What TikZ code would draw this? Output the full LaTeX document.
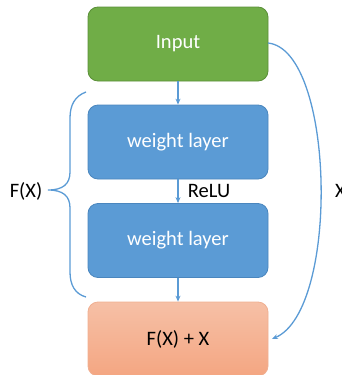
\documentclass[tikz,border=0pt]{standalone}
\usepackage{fontspec}
\setmainfont{Carlito}
\usetikzlibrary{arrows.meta}
\definecolor{ingreen}{HTML}{70AD47}
\definecolor{ingreenb}{HTML}{5A8F38}
\definecolor{wblue}{HTML}{5B9BD5}
\definecolor{wblueb}{HTML}{4A86BE}
\definecolor{otop}{RGB}{246,192,166}
\definecolor{obot}{RGB}{244,166,130}
\definecolor{oborder}{RGB}{240,175,145}
\definecolor{conn}{HTML}{5B9BD5}
\begin{document}
\begin{tikzpicture}[x=1pt,y=1pt,
  box/.style={rounded corners=10pt, minimum width=180pt, minimum height=74pt, line width=0.8pt, font=\fontsize{20.5}{24}\selectfont, inner sep=0pt},
  inbox/.style={box, fill=ingreen, draw=ingreenb, text=white},
  wbox/.style={box, fill=wblue, draw=wblueb, text=white},
  obox/.style={box, top color=otop, bottom color=obot, draw=oborder, text=black},
  link/.style={draw=conn, line width=1.3pt, -{Stealth[length=6pt,width=5pt]}},
  lbl/.style={font=\fontsize{20.5}{24}\selectfont, text=black, inner sep=0pt}]
\useasboundingbox (0,0) rectangle (341,-375);
\node[inbox] (in) at (178,-44) {Input};
\node[wbox] (w1) at (178,-142) {weight layer};
\node[wbox] (w2) at (178,-240.5) {weight layer};
\node[obox] (out) at (178,-339) {F(X) + X};
\draw[link] (in) -- (w1);
\draw[link] (w1) -- (w2);
\draw[link] (w2) -- (out);
\node[lbl] (relu) at (209,-191) {ReLU};
\node[lbl] (fx) at (26,-191) {F(X)};
\node[lbl, anchor=west] (xl) at (335,-191) {X};
\coordinate (xs) at (268,-43);
\coordinate (xe) at (272,-339);
\draw[link] (xs) .. controls (335,-50) and (340,-310) .. (xe);
\coordinate (bt) at (86,-92);
\coordinate (bb) at (86,-297);
\coordinate (bm) at (48,-190);
\draw[draw=conn, line width=1.3pt] (bt) .. controls (75,-96) and (70,-105) .. (70,-118) -- (70,-172)
  .. controls (70,-184) and (63,-190) .. (bm)
  .. controls (63,-190) and (70,-196) .. (70,-208) -- (70,-272)
  .. controls (70,-285) and (75,-294) .. (bb);
\end{tikzpicture}
\end{document}
